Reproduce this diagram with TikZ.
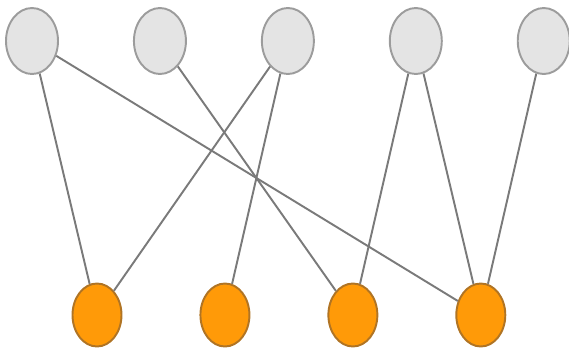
\documentclass[tikz,border=0pt]{standalone}
\usepackage{xcolor}
\usepackage{tikz}
\usetikzlibrary{positioning,shapes.geometric}
\definecolor{topfill}{HTML}{E4E4E4}
\definecolor{topdraw}{HTML}{9C9C9C}
\definecolor{botfill}{HTML}{FF9A08}
\definecolor{botdraw}{HTML}{B07424}
\definecolor{edgecol}{HTML}{7A7A7A}

\begin{document}
\begin{tikzpicture}[
  topnode/.style={ellipse,draw=topdraw,fill=topfill,line width=1.1pt,inner sep=0pt,
                  minimum width=1.04cm,minimum height=1.32cm},
  botnode/.style={ellipse,draw=botdraw,fill=botfill,line width=1.1pt,inner sep=0pt,
                  minimum width=0.98cm,minimum height=1.26cm},
  link/.style={edgecol,line width=1.1pt}
]
  \useasboundingbox (0,0) rectangle (11.38,-6.98);
  % upper row
  \node[topnode] (t1) at (0.64,-0.82) {};
  \node[topnode,right=1.48cm of t1] (t2) {};
  \node[topnode,right=1.48cm of t2] (t3) {};
  \node[topnode,right=1.48cm of t3] (t4) {};
  \node[topnode,right=1.48cm of t4] (t5) {};
  % lower row
  \node[botnode] (b1) at (1.94,-6.3) {};
  \node[botnode,right=1.54cm of b1] (b2) {};
  \node[botnode,right=1.54cm of b2] (b3) {};
  \node[botnode,right=1.54cm of b3] (b4) {};
  % edges
  \draw[link] (t1) -- (b1);
  \draw[link] (t1) -- (b4);
  \draw[link] (t2) -- (b3);
  \draw[link] (t3) -- (b1);
  \draw[link] (t3) -- (b2);
  \draw[link] (t4) -- (b3);
  \draw[link] (t4) -- (b4);
  \draw[link] (t5) -- (b4);
\end{tikzpicture}
\end{document}
